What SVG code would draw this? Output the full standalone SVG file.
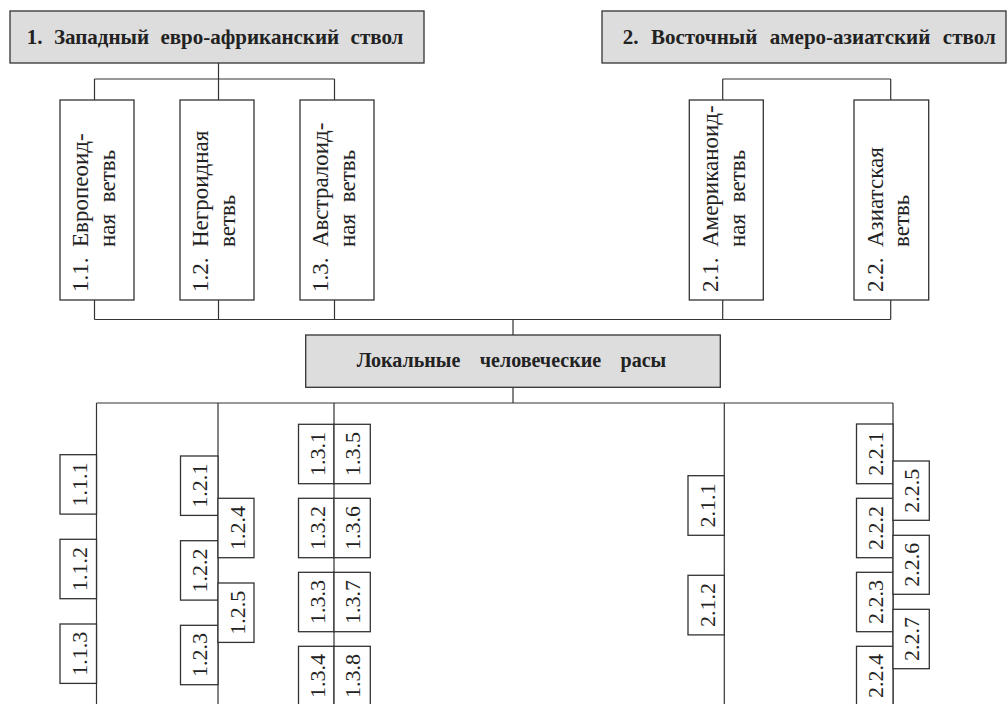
<svg xmlns="http://www.w3.org/2000/svg" width="1007" height="704" viewBox="0 0 1007 704">
<style>
.hdr{fill:#dddddd;stroke:#333;stroke-width:1.3}
.box{fill:#fff;stroke:#333;stroke-width:1.3}
.ln{fill:none;stroke:#333;stroke-width:1.2}
text{font-family:"Liberation Serif","Times New Roman","DejaVu Serif",serif;fill:#222}
.ht{font-weight:bold;font-size:21px;word-spacing:6.2px}
.bt{font-size:23px;word-spacing:6px}
.st{font-size:22px;text-anchor:middle}
</style>
<rect width="1007" height="704" fill="#fff"/>
<g id="connectors">
<path class="ln" d="M218.5 63V79M94.5 79H334.5M94.5 79V100M218.5 79V100M334.5 79V100"/>
<path class="ln" d="M722.7 79H890.7M722.7 79V100M890.7 79V100"/>
<path class="ln" d="M94.5 300V319.5M218.5 300V319.5M334.5 300V319.5M722.7 300V319.5M890.7 300V319.5M94.5 319.5H890.7M513 319.5V335"/>
<path class="ln" d="M513 387.3V403M96.5 403H893M96.5 403V704M218 403V704M334 403V704M724.3 403V704M893 403V704"/>
</g>
<g id="n1"><rect class="hdr" x="10" y="11" width="414" height="52"/><text class="ht" x="26.7" y="43.5">1.  Западный  евро-африканский  ствол</text></g>
<g id="n2"><rect class="hdr" x="602" y="11" width="404" height="52"/><text class="ht" x="622.7" y="43.5" style="word-spacing:7.3px">2.  Восточный  амеро-азиатский  ствол</text></g>
<g id="n11"><rect class="box" x="60" y="100" width="74" height="200"/><g transform="translate(88.3 292) rotate(-90)"><text class="bt"><tspan x="0">1.1.</tspan><tspan x="45">Европеоид-</tspan><tspan x="45" dy="26.7">ная  ветвь</tspan></text></g></g>
<g id="n12"><rect class="box" x="180" y="100" width="74" height="200"/><g transform="translate(208.3 292) rotate(-90)"><text class="bt"><tspan x="0">1.2.</tspan><tspan x="45">Негроидная</tspan><tspan x="45" dy="26.7">ветвь</tspan></text></g></g>
<g id="n13"><rect class="box" x="300" y="100" width="74" height="200"/><g transform="translate(328.3 292) rotate(-90)"><text class="bt"><tspan x="0">1.3.</tspan><tspan x="45">Австралоид-</tspan><tspan x="45" dy="26.7">ная  ветвь</tspan></text></g></g>
<g id="n21"><rect class="box" x="689.3" y="100" width="74" height="200"/><g transform="translate(718 292) rotate(-90)"><text class="bt"><tspan x="0">2.1.</tspan><tspan x="45">Американоид-</tspan><tspan x="45" dy="26.7">ная  ветвь</tspan></text></g></g>
<g id="n22"><rect class="box" x="854" y="100" width="74.7" height="200"/><g transform="translate(882.5 292) rotate(-90)"><text class="bt"><tspan x="0">2.2.</tspan><tspan x="45">Азиатская</tspan><tspan x="45" dy="26.7">ветвь</tspan></text></g></g>
<g id="nlocal"><rect class="hdr" x="305.7" y="335" width="414.6" height="52.3"/><text class="ht" x="356.7" y="367" style="font-size:20px;word-spacing:14.5px">Локальные  человеческие  расы</text></g>
<g id="n111"><rect class="box" x="60" y="454.7" width="36.5" height="59.4"/><text class="st" transform="translate(86.7 484.4) rotate(-90)">1.1.1</text></g>
<g id="n112"><rect class="box" x="60" y="539.3" width="36.5" height="59.4"/><text class="st" transform="translate(86.7 569) rotate(-90)">1.1.2</text></g>
<g id="n113"><rect class="box" x="60" y="624" width="36.5" height="59.4"/><text class="st" transform="translate(86.7 653.7) rotate(-90)">1.1.3</text></g>
<g id="n121"><rect class="box" x="180.5" y="456" width="37.5" height="59.4"/><text class="st" transform="translate(207.2 485.7) rotate(-90)">1.2.1</text></g>
<g id="n122"><rect class="box" x="180.5" y="540.7" width="37.5" height="59.4"/><text class="st" transform="translate(207.2 570.4) rotate(-90)">1.2.2</text></g>
<g id="n123"><rect class="box" x="180.5" y="625.3" width="37.5" height="59.4"/><text class="st" transform="translate(207.2 655) rotate(-90)">1.2.3</text></g>
<g id="n124"><rect class="box" x="218" y="498.3" width="36" height="59.4"/><text class="st" transform="translate(244.5 528) rotate(-90)">1.2.4</text></g>
<g id="n125"><rect class="box" x="218" y="583" width="36" height="59.4"/><text class="st" transform="translate(244.5 612.7) rotate(-90)">1.2.5</text></g>
<g id="n131"><rect class="box" x="298.5" y="424.3" width="35.5" height="59.4"/><text class="st" transform="translate(324.5 454) rotate(-90)">1.3.1</text></g>
<g id="n132"><rect class="box" x="298.5" y="498.3" width="35.5" height="59.4"/><text class="st" transform="translate(324.5 528) rotate(-90)">1.3.2</text></g>
<g id="n133"><rect class="box" x="298.5" y="572.3" width="35.5" height="59.4"/><text class="st" transform="translate(324.5 602) rotate(-90)">1.3.3</text></g>
<g id="n134"><rect class="box" x="298.5" y="646.3" width="35.5" height="59.4"/><text class="st" transform="translate(324.5 676) rotate(-90)">1.3.4</text></g>
<g id="n135"><rect class="box" x="334" y="424.3" width="36.3" height="59.4"/><text class="st" transform="translate(360.3 454) rotate(-90)">1.3.5</text></g>
<g id="n136"><rect class="box" x="334" y="498.3" width="36.3" height="59.4"/><text class="st" transform="translate(360.3 528) rotate(-90)">1.3.6</text></g>
<g id="n137"><rect class="box" x="334" y="572.3" width="36.3" height="59.4"/><text class="st" transform="translate(360.3 602) rotate(-90)">1.3.7</text></g>
<g id="n138"><rect class="box" x="334" y="646.3" width="36.3" height="59.4"/><text class="st" transform="translate(360.3 676) rotate(-90)">1.3.8</text></g>
<g id="n211"><rect class="box" x="688" y="475.7" width="36.3" height="59.6"/><text class="st" transform="translate(714.5 505.5) rotate(-90)">2.1.1</text></g>
<g id="n212"><rect class="box" x="688" y="575.3" width="36.3" height="59.6"/><text class="st" transform="translate(714.5 605.1) rotate(-90)">2.1.2</text></g>
<g id="n221"><rect class="box" x="856.5" y="424" width="36.5" height="59.7"/><text class="st" transform="translate(883 453.8) rotate(-90)">2.2.1</text></g>
<g id="n222"><rect class="box" x="856.5" y="498.3" width="36.5" height="59.4"/><text class="st" transform="translate(883 528) rotate(-90)">2.2.2</text></g>
<g id="n223"><rect class="box" x="856.5" y="572.3" width="36.5" height="59.4"/><text class="st" transform="translate(883 602) rotate(-90)">2.2.3</text></g>
<g id="n224"><rect class="box" x="856.5" y="646.3" width="36.5" height="59.4"/><text class="st" transform="translate(883 676) rotate(-90)">2.2.4</text></g>
<g id="n225"><rect class="box" x="893" y="461" width="36.3" height="59.3"/><text class="st" transform="translate(919.3 490.7) rotate(-90)">2.2.5</text></g>
<g id="n226"><rect class="box" x="893" y="535.3" width="36.3" height="59"/><text class="st" transform="translate(919.3 564.8) rotate(-90)">2.2.6</text></g>
<g id="n227"><rect class="box" x="893" y="609.3" width="36.3" height="59.4"/><text class="st" transform="translate(919.3 639) rotate(-90)">2.2.7</text></g>
</svg>
